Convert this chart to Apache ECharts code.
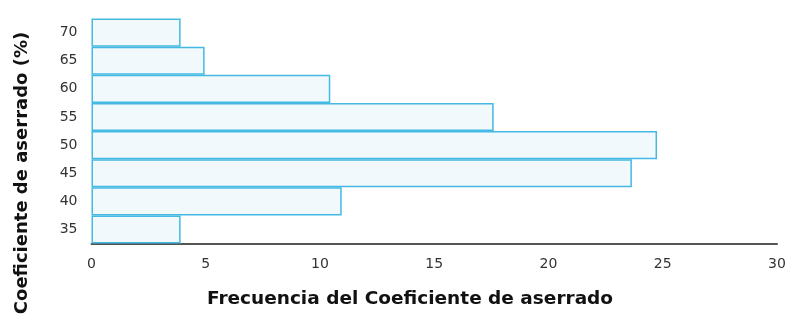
<!DOCTYPE html>
<html><head><meta charset="utf-8">
<script src="https://cdn.jsdelivr.net/npm/echarts@6/dist/echarts.min.js"></script>
<style>html,body{margin:0;padding:0;background:#fff}#c{width:795px;height:322px}</style>
</head><body><div id="c"></div>
<script>
const categories = ['35','40','45','50','55','60','65','70'];
const values = [3.9, 10.95, 23.65, 24.75, 17.6, 10.45, 4.95, 3.9];
const xTicks = [0, 5, 10, 15, 20, 25, 30];
const xTitle = 'Frecuencia del Coeficiente de aserrado';
const yTitle = 'Coeficiente de aserrado (%)';

const chart = echarts.init(document.getElementById('c'), null, {renderer:'canvas'});
const font = 'DejaVu Sans, Verdana, sans-serif';
chart.setOption({
  animation: false,
  grid: {left: 91.5, right: 18, top: 18.5, bottom: 78.5, containLabel: false, outerBoundsMode: 'none'},
  xAxis: {
    type: 'value', min: xTicks[0], max: xTicks[xTicks.length-1], interval: 5,
    axisLine: {show: true, lineStyle: {color: '#555', width: 2}},
    axisTick: {show: false},
    splitLine: {show: false},
    axisLabel: {color: '#333', fontFamily: font, fontSize: 14, margin: 14}
  },
  yAxis: {
    type: 'category', data: categories,
    axisLine: {show: false}, axisTick: {show: false},
    axisLabel: {color: '#333', fontFamily: font, fontSize: 14, margin: 14, padding: [4, 0, 0, 0]}
  },
  graphic: [
    {type: 'text', x: 410, y: 299, style: {text: xTitle, fill: '#111', font: 'bold 18.5px ' + font, textAlign: 'center', textVerticalAlign: 'middle'}},
    {type: 'text', x: 22, y: 173, rotation: Math.PI/2, style: {text: yTitle, fill: '#111', font: 'bold 18px ' + font, textAlign: 'center', textVerticalAlign: 'middle'}}
  ],
  series: [{
    type: 'bar', data: values, barCategoryGap: 0, barWidth: '100%',
    itemStyle: {color: '#f1f9fd', borderColor: '#45b9e4', borderWidth: 1.5}
  }]
});
</script></body></html>
